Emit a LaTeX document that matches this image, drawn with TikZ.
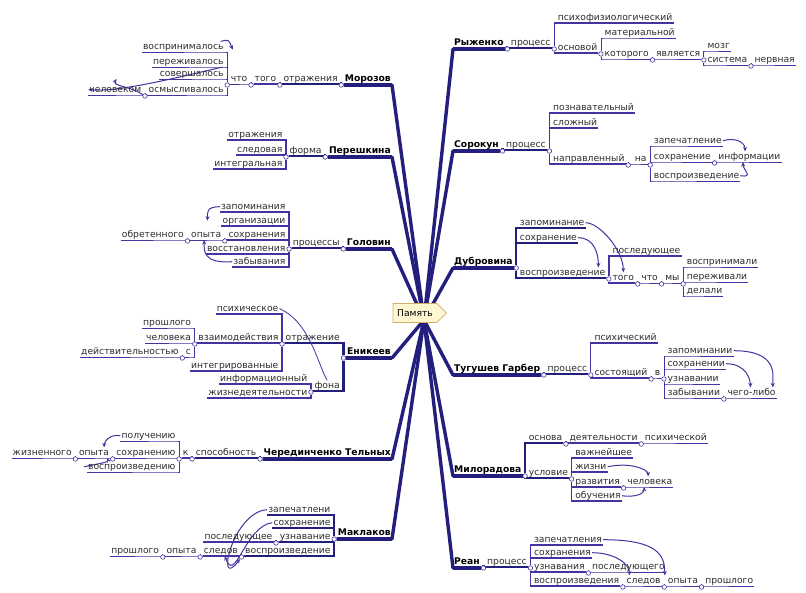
\documentclass[tikz,border=0pt]{standalone}
\usepackage{fontspec}
\setmainfont{DejaVu Sans}
\usepackage{tikz}
\usetikzlibrary{arrows.meta, shapes.symbols, backgrounds}
\definecolor{mapblue}{RGB}{36, 30, 125}
\definecolor{linkblue}{RGB}{70, 50, 160}
\definecolor{wordgray}{RGB}{45, 45, 45}
\definecolor{tagfill}{RGB}{255, 247, 210}
\definecolor{tagdraw}{RGB}{205, 175, 105}

\tikzset{
  word/.style={font=\fontsize{9.2}{11}\selectfont, text=wordgray, inner xsep=1pt, inner ysep=0.6pt, text height=7pt, text depth=2pt},
  mainword/.style={word, font=\fontsize{9.2}{11}\selectfont\bfseries, text=black},
  jn/.style={circle, draw=linkblue, fill=white, line width=0.6pt, inner sep=0pt, minimum size=4.5pt},
  branch/.style={mapblue, line width=3.4pt, line cap=round},
  bar/.style={mapblue, line width=4.5pt},
  ulA/.style={mapblue, line width=2.2pt},
  ulB/.style={linkblue, line width=1.3pt},
  ulC/.style={linkblue, line width=0.8pt},
  arr/.style={linkblue, line width=1pt, -{Stealth[length=4.5pt, width=4pt]}},
}

\begin{document}
\begin{tikzpicture}[x=1pt, y=-1pt]
    \useasboundingbox (0,0) rectangle (806,592);
    \coordinate (hub) at (424,320);

    % ---------------- right side ----------------
    % Рыженко
    \node[mainword, anchor=south west] (R0) at (453,48) {Рыженко};
    \node[jn] (jR0) at ([xshift=2.5pt,yshift=-1pt]R0.south east) {};
    \node[word, anchor=south west] (R1) at ([xshift=5pt]R0.south east) {процесс};
    \node[jn] (jR1) at ([xshift=2.5pt,yshift=-1pt]R1.south east) {};
    \node[word, anchor=south west, xshift=2.5pt] (R11) at (jR1 |- 0,23) {психофизиологический};
    \node[word, anchor=south west, xshift=2.5pt] (R12) at (jR1 |- 0,53) {основой};
    \node[jn] (jR12) at ([xshift=2.5pt,yshift=-1pt]R12.south east) {};
    \node[word, anchor=south west, xshift=2.5pt] (R121) at (jR12 |- 0,38) {материальной};
    \node[word, anchor=south west, xshift=2.5pt] (R122) at (jR12 |- 0,59) {которого};
    \node[jn] (jR122) at ([xshift=2.5pt,yshift=-1pt]R122.south east) {};
    \node[word, anchor=south west] (R1221) at ([xshift=5pt]R122.south east) {является};
    \node[jn] (jR1221) at ([xshift=2.5pt,yshift=-1pt]R1221.south east) {};
    \node[word, anchor=south west, xshift=2.5pt] (R12211) at (jR1221 |- 0,51) {мозг};
    \node[word, anchor=south west, xshift=2.5pt] (R12212) at (jR1221 |- 0,65) {система};
    \node[jn] (jR12212) at ([xshift=2.5pt,yshift=-1pt]R12212.south east) {};
    \node[word, anchor=south west] (R122121) at ([xshift=5pt]R12212.south east) {нервная};

    % Сорокун
    \node[mainword, anchor=south west] (S0) at (453,150) {Сорокун};
    \node[jn] (jS0) at ([xshift=2.5pt,yshift=-1pt]S0.south east) {};
    \node[word, anchor=south west] (S1) at ([xshift=5pt]S0.south east) {процесс};
    \node[jn] (jS1) at ([xshift=2.5pt,yshift=-1pt]S1.south east) {};
    \node[word, anchor=south west, xshift=2.5pt] (S11) at (jS1 |- 0,113) {познавательный};
    \node[word, anchor=south west, xshift=2.5pt] (S12) at (jS1 |- 0,128) {сложный};
    \node[word, anchor=south west, xshift=2.5pt] (S13) at (jS1 |- 0,164) {направленный};
    \node[jn] (jS13) at ([xshift=2.5pt,yshift=-1pt]S13.south east) {};
    \node[word, anchor=south west] (S131) at ([xshift=8pt]S13.south east) {на};
    \node[jn] (jS131) at ([xshift=2.5pt,yshift=-1pt]S131.south east) {};
    \node[word, anchor=south west, xshift=2.5pt] (S1311) at (jS131 |- 0,146) {запечатление};
    \node[word, anchor=south west, xshift=2.5pt] (S1312) at (jS131 |- 0,162) {сохранение};
    \node[word, anchor=south west, xshift=2.5pt] (S1313) at (jS131 |- 0,181) {воспроизведение};
    \node[jn] (jS1312) at ([xshift=2.5pt,yshift=-1pt]S1312.south east) {};
    \node[word, anchor=south west] (S13121) at ([xshift=5pt]S1312.south east) {информации};

    % Дубровина
    \node[mainword, anchor=south west] (D0) at (453,267) {Дубровина};
    \node[jn] (jD0) at ([xshift=2.5pt,yshift=-1pt]D0.south east) {};
    \node[word, anchor=south west, xshift=2.5pt] (D1) at (jD0 |- 0,228) {запоминание};
    \node[word, anchor=south west, xshift=2.5pt] (D2) at (jD0 |- 0,243) {сохранение};
    \node[word, anchor=south west, xshift=2.5pt] (D3) at (jD0 |- 0,278) {воспроизведение};
    \node[jn] (jD3) at ([xshift=2.5pt,yshift=-1pt]D3.south east) {};
    \node[word, anchor=south west, xshift=2.5pt] (D31) at (jD3 |- 0,256) {последующее};
    \node[word, anchor=south west, xshift=2.5pt] (D32) at (jD3 |- 0,283) {того};
    \node[jn] (jD32) at ([xshift=2.5pt,yshift=-1pt]D32.south east) {};
    \node[word, anchor=south west] (D321) at ([xshift=5pt]D32.south east) {что};
    \node[jn] (jD321) at ([xshift=2.5pt,yshift=-1pt]D321.south east) {};
    \node[word, anchor=south west] (D3211) at ([xshift=5pt]D321.south east) {мы};
    \node[jn] (jD3211) at ([xshift=2.5pt,yshift=-1pt]D3211.south east) {};
    \node[word, anchor=south west, xshift=2.5pt] (D32111) at (jD3211 |- 0,267) {воспринимали};
    \node[word, anchor=south west, xshift=2.5pt] (D32112) at (jD3211 |- 0,282) {переживали};
    \node[word, anchor=south west, xshift=2.5pt] (D32113) at (jD3211 |- 0,296) {делали};

    % Тугушев Гарбер
    \node[mainword, anchor=south west] (T0) at (453,374) {Тугушев Гарбер};
    \node[jn] (jT0) at ([xshift=2.5pt,yshift=-1pt]T0.south east) {};
    \node[word, anchor=south west] (T1) at ([xshift=5pt]T0.south east) {процесс};
    \node[jn] (jT1) at ([xshift=2.5pt,yshift=-1pt]T1.south east) {};
    \node[word, anchor=south west, xshift=2.5pt] (T11) at (jT1 |- 0,343) {психический};
    \node[word, anchor=south west, xshift=2.5pt] (T12) at (jT1 |- 0,378) {состоящий};
    \node[jn] (jT12) at ([xshift=2.5pt,yshift=-1pt]T12.south east) {};
    \node[word, anchor=south west] (T121) at ([xshift=5pt]T12.south east) {в};
    \node[jn] (jT121) at ([xshift=2.5pt,yshift=-1pt]T121.south east) {};
    \node[word, anchor=south west, xshift=2.5pt] (T1211) at (jT121 |- 0,356) {запоминании};
    \node[word, anchor=south west, xshift=2.5pt] (T1212) at (jT121 |- 0,369) {сохранении};
    \node[word, anchor=south west, xshift=2.5pt] (T1213) at (jT121 |- 0,384) {узнавании};
    \node[word, anchor=south west, xshift=2.5pt] (T1214) at (jT121 |- 0,398) {забывании};
    \node[jn] (jT1214) at ([xshift=2.5pt,yshift=-1pt]T1214.south east) {};
    \node[word, anchor=south west] (T12141) at ([xshift=5pt]T1214.south east) {чего-либо};

    % Милорадова
    \node[mainword, anchor=south west] (M0) at (453,475) {Милорадова};
    \node[jn] (jM0) at ([xshift=2.5pt,yshift=-1pt]M0.south east) {};
    \node[word, anchor=south west, xshift=2.5pt] (M1) at (jM0 |- 0,443) {основа};
    \node[jn] (jM1) at ([xshift=2.5pt,yshift=-1pt]M1.south east) {};
    \node[word, anchor=south west] (M11) at ([xshift=5pt]M1.south east) {деятельности};
    \node[jn] (jM11) at ([xshift=2.5pt,yshift=-1pt]M11.south east) {};
    \node[word, anchor=south west] (M111) at ([xshift=5pt]M11.south east) {психической};
    \node[word, anchor=south west, xshift=2.5pt] (M2) at (jM0 |- 0,478) {условие};
    \node[jn] (jM2) at ([xshift=2.5pt,yshift=-1pt]M2.south east) {};
    \node[word, anchor=south west, xshift=2.5pt] (M21) at (jM2 |- 0,458) {важнейшее};
    \node[word, anchor=south west, xshift=2.5pt] (M22) at (jM2 |- 0,472) {жизни};
    \node[word, anchor=south west, xshift=2.5pt] (M23) at (jM2 |- 0,487) {развития};
    \node[jn] (jM23) at ([xshift=2.5pt,yshift=-1pt]M23.south east) {};
    \node[word, anchor=south west] (M231) at ([xshift=5pt]M23.south east) {человека};
    \node[word, anchor=south west, xshift=2.5pt] (M24) at (jM2 |- 0,501) {обучения};

    % Реан
    \node[mainword, anchor=south west] (P0) at (453,567) {Реан};
    \node[jn] (jP0) at ([xshift=2.5pt,yshift=-1pt]P0.south east) {};
    \node[word, anchor=south west] (P1) at ([xshift=5pt]P0.south east) {процесс};
    \node[jn] (jP1) at ([xshift=2.5pt,yshift=-1pt]P1.south east) {};
    \node[word, anchor=south west, xshift=2.5pt] (P11) at (jP1 |- 0,545) {запечатления};
    \node[word, anchor=south west, xshift=2.5pt] (P12) at (jP1 |- 0,558) {сохранения};
    \node[word, anchor=south west, xshift=2.5pt] (P13) at (jP1 |- 0,572) {узнавания};
    \node[jn] (jP13) at ([xshift=2.5pt,yshift=-1pt]P13.south east) {};
    \node[word, anchor=south west] (P131) at ([xshift=5pt]P13.south east) {последующего};
    \node[word, anchor=south west, xshift=2.5pt] (P14) at (jP1 |- 0,586) {воспроизведения};
    \node[jn] (jP14) at ([xshift=2.5pt,yshift=-1pt]P14.south east) {};
    \node[word, anchor=south west] (P141) at ([xshift=5pt]P14.south east) {следов};
    \node[jn] (jP141) at ([xshift=2.5pt,yshift=-1pt]P141.south east) {};
    \node[word, anchor=south west] (P1411) at ([xshift=5pt]P141.south east) {опыта};
    \node[jn] (jP1411) at ([xshift=2.5pt,yshift=-1pt]P1411.south east) {};
    \node[word, anchor=south west] (P14111) at ([xshift=5pt]P1411.south east) {прошлого};

    % ---------------- left side ----------------
    % Морозов
    \node[mainword, anchor=south east] (L0) at (392,84) {Морозов};
    \node[jn] (jL0) at ([xshift=-2.5pt,yshift=-1pt]L0.south west) {};
    \node[word, anchor=south east] (L1) at ([xshift=-5pt]L0.south west) {отражения};
    \node[jn] (jL1) at ([xshift=-2.5pt,yshift=-1pt]L1.south west) {};
    \node[word, anchor=south east] (L11) at ([xshift=-5pt]L1.south west) {того};
    \node[jn] (jL11) at ([xshift=-2.5pt,yshift=-1pt]L11.south west) {};
    \node[word, anchor=south east] (L111) at ([xshift=-5pt]L11.south west) {что};
    \node[jn] (jL111) at ([xshift=-2.5pt,yshift=-1pt]L111.south west) {};
    \node[word, anchor=south east, xshift=-2.5pt] (L1111) at (jL111 |- 0,52) {воспринималось};
    \node[word, anchor=south east, xshift=-2.5pt] (L1112) at (jL111 |- 0,67) {переживалось};
    \node[word, anchor=south east, xshift=-2.5pt] (L1113) at (jL111 |- 0,79) {совершалось};
    \node[word, anchor=south east, xshift=-2.5pt] (L1114) at (jL111 |- 0,95) {осмысливалось};
    \node[jn] (jL1114) at ([xshift=-2.5pt,yshift=-1pt]L1114.south west) {};
    \node[word, anchor=south east] (L11141) at ([xshift=-5pt]L1114.south west) {человеком};

    % Перешкина
    \node[mainword, anchor=south east] (K0) at (392,156) {Перешкина};
    \node[jn] (jK0) at ([xshift=-2.5pt,yshift=-1pt]K0.south west) {};
    \node[word, anchor=south east] (K1) at ([xshift=-5pt]K0.south west) {форма};
    \node[jn] (jK1) at ([xshift=-2.5pt,yshift=-1pt]K1.south west) {};
    \node[word, anchor=south east, xshift=-2.5pt] (K11) at (jK1 |- 0,140) {отражения};
    \node[word, anchor=south east, xshift=-2.5pt] (K12) at (jK1 |- 0,155) {следовая};
    \node[word, anchor=south east, xshift=-2.5pt] (K13) at (jK1 |- 0,169) {интегральная};

    % Головин
    \node[mainword, anchor=south east] (G0) at (392,248) {Головин};
    \node[jn] (jG0) at ([xshift=-2.5pt,yshift=-1pt]G0.south west) {};
    \node[word, anchor=south east] (G1) at ([xshift=-5pt]G0.south west) {процессы};
    \node[jn] (jG1) at ([xshift=-2.5pt,yshift=-1pt]G1.south west) {};
    \node[word, anchor=south east, xshift=-2.5pt] (G11) at (jG1 |- 0,212) {запоминания};
    \node[word, anchor=south east, xshift=-2.5pt] (G12) at (jG1 |- 0,226) {организации};
    \node[word, anchor=south east, xshift=-2.5pt] (G13) at (jG1 |- 0,240) {сохранения};
    \node[word, anchor=south east, xshift=-2.5pt] (G14) at (jG1 |- 0,254) {восстановления};
    \node[word, anchor=south east, xshift=-2.5pt] (G15) at (jG1 |- 0,267) {забывания};
    \node[jn] (jG13) at ([xshift=-2.5pt,yshift=-1pt]G13.south west) {};
    \node[word, anchor=south east] (G131) at ([xshift=-5pt]G13.south west) {опыта};
    \node[jn] (jG131) at ([xshift=-2.5pt,yshift=-1pt]G131.south west) {};
    \node[word, anchor=south east] (G1311) at ([xshift=-5pt]G131.south west) {обретенного};

    % Еникеев
    \node[mainword, anchor=south east] (E0) at (392,357) {Еникеев};
    \node[jn] (jE0) at ([xshift=-2.5pt,yshift=-1pt]E0.south west) {};
    \node[word, anchor=south east, xshift=-2.5pt] (E1) at (jE0 |- 0,343) {отражение};
    \node[jn] (jE1) at ([xshift=-2.5pt,yshift=-1pt]E1.south west) {};
    \node[word, anchor=south east, xshift=-2.5pt] (E11) at (jE1 |- 0,314) {психическое};
    \node[word, anchor=south east, xshift=-2.5pt] (E12) at (jE1 |- 0,343) {взаимодействия};
    \node[jn] (jE12) at ([xshift=-2.5pt,yshift=-1pt]E12.south west) {};
    \node[word, anchor=south east, xshift=-2.5pt] (E121) at (jE12 |- 0,328) {прошлого};
    \node[word, anchor=south east, xshift=-2.5pt] (E122) at (jE12 |- 0,343) {человека};
    \node[word, anchor=south east, xshift=-2.5pt] (E123) at (jE12 |- 0,357) {с};
    \node[jn] (jE123) at ([xshift=-2.5pt,yshift=-1pt]E123.south west) {};
    \node[word, anchor=south east] (E1231) at ([xshift=-5pt]E123.south west) {действительностью};
    \node[word, anchor=south east, xshift=-2.5pt] (E13) at (jE1 |- 0,371) {интегрированные};
    \node[word, anchor=south east, xshift=-2.5pt] (E2) at (jE0 |- 0,391) {фона};
    \node[jn] (jE2) at ([xshift=-2.5pt,yshift=-1pt]E2.south west) {};
    \node[word, anchor=south east, xshift=-2.5pt] (E21) at (jE2 |- 0,384) {информационный};
    \node[word, anchor=south east, xshift=-2.5pt] (E22) at (jE2 |- 0,398) {жизнедеятельности};

    % Черединченко Тельных
    \node[mainword, anchor=south east] (C0) at (392,458) {Черединченко Тельных};
    \node[jn] (jC0) at ([xshift=-2.5pt,yshift=-1pt]C0.south west) {};
    \node[word, anchor=south east] (C1) at ([xshift=-5pt]C0.south west) {способность};
    \node[jn] (jC1) at ([xshift=-2.5pt,yshift=-1pt]C1.south west) {};
    \node[word, anchor=south east] (C11) at ([xshift=-5pt]C1.south west) {к};
    \node[jn] (jC11) at ([xshift=-2.5pt,yshift=-1pt]C11.south west) {};
    \node[word, anchor=south east, xshift=-2.5pt] (C111) at (jC11 |- 0,441) {получению};
    \node[word, anchor=south east, xshift=-2.5pt] (C112) at (jC11 |- 0,458) {сохранению};
    \node[word, anchor=south east, xshift=-2.5pt] (C113) at (jC11 |- 0,472) {воспроизведению};
    \node[jn] (jC112) at ([xshift=-2.5pt,yshift=-1pt]C112.south west) {};
    \node[word, anchor=south east] (C1121) at ([xshift=-5pt]C112.south west) {опыта};
    \node[jn] (jC1121) at ([xshift=-2.5pt,yshift=-1pt]C1121.south west) {};
    \node[word, anchor=south east] (C11211) at ([xshift=-5pt]C1121.south west) {жизненного};

    % Маклаков
    \node[mainword, anchor=south east] (A0) at (392,538) {Маклаков};
    \node[jn] (jA0) at ([xshift=-2.5pt,yshift=-1pt]A0.south west) {};
    \node[word, anchor=south east, xshift=-2.5pt] (A1) at (jA0 |- 0,515) {запечатлени};
    \node[word, anchor=south east, xshift=-2.5pt] (A2) at (jA0 |- 0,528) {сохранение};
    \node[word, anchor=south east, xshift=-2.5pt] (A3) at (jA0 |- 0,542) {узнавание};
    \node[jn] (jA3) at ([xshift=-2.5pt,yshift=-1pt]A3.south west) {};
    \node[word, anchor=south east] (A31) at ([xshift=-5pt]A3.south west) {последующее};
    \node[word, anchor=south east, xshift=-2.5pt] (A4) at (jA0 |- 0,556) {воспроизведение};
    \node[jn] (jA4) at ([xshift=-2.5pt,yshift=-1pt]A4.south west) {};
    \node[word, anchor=south east] (A41) at ([xshift=-5pt]A4.south west) {следов};
    \node[jn] (jA41) at ([xshift=-2.5pt,yshift=-1pt]A41.south west) {};
    \node[word, anchor=south east] (A411) at ([xshift=-5pt]A41.south west) {опыта};
    \node[jn] (jA411) at ([xshift=-2.5pt,yshift=-1pt]A411.south west) {};
    \node[word, anchor=south east] (A4111) at ([xshift=-5pt]A411.south west) {прошлого};

    % Центр
    \node[signal, signal to=east, draw=tagdraw, fill=tagfill, line width=0.8pt, font=\fontsize{9.2}{11}\selectfont, inner xsep=4pt, inner ysep=3pt, minimum height=19pt] (pamyat) at (415,313) {Память};

    \begin{scope}[on background layer]
    \fill[white] (0,0) rectangle (806,592);

    % Ветви
    \foreach \m in {L0,K0,G0,E0,C0,A0} {
        \draw[branch] (hub) -- ([yshift=-1pt]\m.south east);
        \draw[bar] ([yshift=-1pt]\m.south east) -- ([yshift=-1pt]\m.south west) -- (j\m);
    }
    \foreach \m in {R0,S0,D0,T0,M0,P0} {
        \draw[branch] (hub) -- ([yshift=-1pt]\m.south west);
        \draw[bar] ([yshift=-1pt]\m.south west) -- ([yshift=-1pt]\m.south east) -- (j\m);
    }

    % Связи справа
    \foreach \q/\w in {jR0/R1, jS0/S1, jT0/T1, jP0/P1, jD0/D1, jD0/D2, jD0/D3, jM0/M1, jM0/M2}
        \draw[ulA] (\q) |- (\w.south west) -- (\w.south east);
    \foreach \w/\q in {R1/jR1, S1/jS1, T1/jT1, P1/jP1, D3/jD3, M1/jM1, M2/jM2}
        \draw[ulA] (\w.south east) -- (\q);
    \foreach \q/\w in {jR1/R11, jR1/R12, jS1/S11, jS1/S12, jS1/S13, jD3/D31, jD3/D32, jT1/T11, jT1/T12, jM1/M11, jM2/M21, jM2/M22, jM2/M23, jM2/M24, jP1/P11, jP1/P12, jP1/P13, jP1/P14}
        \draw[ulB] (\q) |- (\w.south west) -- (\w.south east);
    \foreach \w/\q in {R12/jR12, S13/jS13, D32/jD32, T12/jT12, M11/jM11, M23/jM23, P13/jP13, P14/jP14}
        \draw[ulB] (\w.south east) -- (\q);
    \foreach \q/\w in {jR12/R121, jR12/R122, jR122/R1221, jR1221/R12211, jR1221/R12212, jR12212/R122121, jS13/S131, jS131/S1311, jS131/S1312, jS131/S1313, jS1312/S13121, jD32/D321, jD321/D3211, jD3211/D32111, jD3211/D32112, jD3211/D32113, jT12/T121, jT121/T1211, jT121/T1212, jT121/T1213, jT121/T1214, jT1214/T12141, jM11/M111, jM23/M231, jP13/P131, jP14/P141, jP141/P1411, jP1411/P14111}
        \draw[ulC] (\q) |- (\w.south west) -- (\w.south east);
    \foreach \w/\q in {R122/jR122, R1221/jR1221, R12212/jR12212, S131/jS131, S1312/jS1312, D321/jD321, D3211/jD3211, T121/jT121, T1214/jT1214, P141/jP141, P1411/jP1411}
        \draw[ulC] (\w.south east) -- (\q);

    % Связи слева
    \foreach \q/\w in {jL0/L1, jK0/K1, jG0/G1, jE0/E1, jE0/E2, jC0/C1, jA0/A1, jA0/A2, jA0/A3, jA0/A4}
        \draw[ulA] (\q) |- (\w.south east) -- (\w.south west);
    \foreach \w/\q in {L1/jL1, K1/jK1, G1/jG1, E1/jE1, E2/jE2, C1/jC1, A3/jA3, A4/jA4}
        \draw[ulA] (\w.south west) -- (\q);
    \foreach \q/\w in {jL1/L11, jK1/K11, jK1/K12, jK1/K13, jG1/G11, jG1/G12, jG1/G13, jG1/G14, jG1/G15, jE1/E11, jE1/E12, jE1/E13, jE2/E21, jE2/E22, jC1/C11, jA3/A31, jA4/A41}
        \draw[ulB] (\q) |- (\w.south east) -- (\w.south west);
    \foreach \w/\q in {L11/jL11, G13/jG13, E12/jE12, C11/jC11, A41/jA41}
        \draw[ulB] (\w.south west) -- (\q);
    \foreach \q/\w in {jL11/L111, jL111/L1111, jL111/L1112, jL111/L1113, jL111/L1114, jL1114/L11141, jG13/G131, jG131/G1311, jE12/E121, jE12/E122, jE12/E123, jE123/E1231, jC11/C111, jC11/C112, jC11/C113, jC112/C1121, jC1121/C11211, jA41/A411, jA411/A4111}
        \draw[ulC] (\q) |- (\w.south east) -- (\w.south west);
    \foreach \w/\q in {L111/jL111, L1114/jL1114, G131/jG131, E123/jE123, C112/jC112, C1121/jC1121, A411/jA411}
        \draw[ulC] (\w.south west) -- (\q);

    % Стрелки
    \draw[arr] ([xshift=-4pt]L1111.north east) .. controls +(8,-2) .. ([xshift=8pt,yshift=-3pt]L1111.east);
    \draw[arr] ([xshift=-2pt]L1112.south east) .. controls (175,78) and (120,92) .. (L11141.west);
    \draw[arr] (jL1114) .. controls (130,86) and (112,86) .. ([xshift=-42pt]L1113.south west);
    \draw[arr] (G11.west) .. controls +(-14,0) and +(0,-8) .. ([xshift=-14pt]G12.west);
    \draw[arr] (G15.west) .. controls +(-30,2) and +(0,10) .. ([xshift=-2pt]G131.south);
    \draw[ulC] (E11.east) .. controls (310,322) and (318,365) .. (E2.north);
    \draw[arr] (C111.west) .. controls +(-10,-2) and +(0,-6) .. ([xshift=-6pt]C1121.north east);
    \draw[arr] (C113.west) .. controls +(-8,0) and +(2,5) .. ([xshift=-3pt]C1121.south east);
    \draw[arr] (A1.west) .. controls (232,512) and (215,592) .. (jA4);
    \draw[arr] (A2.west) .. controls (245,526) and (235,585) .. ([xshift=4pt]A41.south);
    \draw[arr] (S1311.east) .. controls +(14,-4) and +(0,-8) .. ([xshift=28pt]S13121.north west);
    \draw[arr] (S1313.east) .. controls +(14,2) and +(0,8) .. ([xshift=26pt]S13121.south west);
    \draw[arr] (D1.east) .. controls +(14,0) and +(0,-22) .. (D32.north);
    \draw[arr] (D2.east) .. controls +(16,0) and +(0,-14) .. ([xshift=-8pt]D3.north east);
    \draw[arr] (T1211.east) .. controls +(45,0) and +(0,-12) .. ([xshift=-4pt]T12141.north east);
    \draw[arr] (T1212.east) .. controls +(20,0) and +(0,-8) .. ([xshift=24pt]T12141.north west);
    \draw[arr] (M22.east) .. controls +(25,-5) and +(0,-6) .. ([xshift=22pt]M231.north west);
    \draw[arr] (M24.east) .. controls +(15,2) and +(0,6) .. ([xshift=18pt]M231.south west);
    \draw[arr] (P11.east) .. controls +(55,0) and +(0,-20) .. ([xshift=-2pt]P1411.north west);
    \draw[arr] (P12.east) .. controls +(22,0) and +(0,-12) .. ([xshift=4pt]P141.north west);
    \end{scope}
\end{tikzpicture}
\end{document}
